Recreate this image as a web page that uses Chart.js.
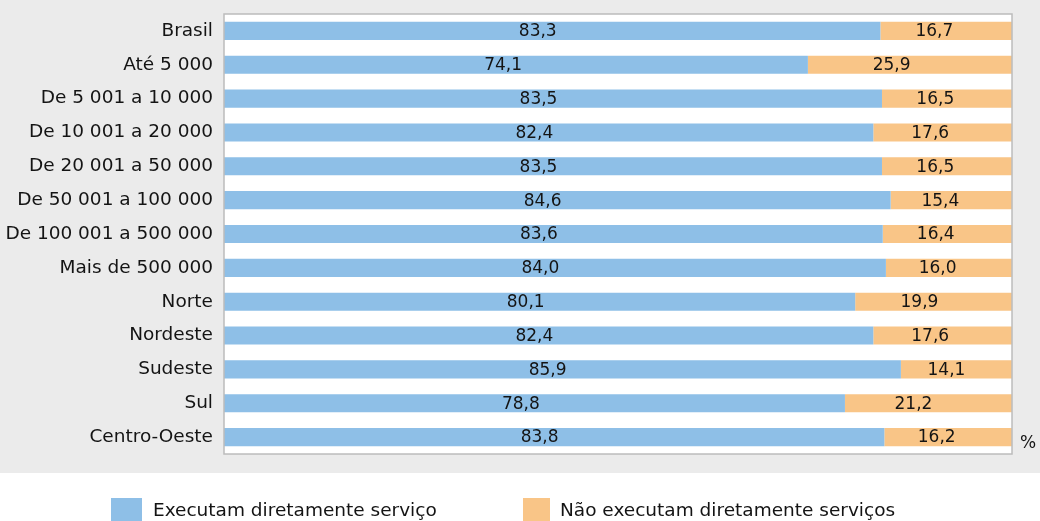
<!DOCTYPE html>
<html>
<head>
<meta charset="utf-8">
<script src="https://cdn.jsdelivr.net/npm/chart.js@4"></script>
<style>
  html, body { margin: 0; padding: 0; background: #ffffff; }
  #wrap { position: relative; width: 1040px; height: 521px; }
</style>
</head>
<body>
<div id="wrap"><canvas id="chart" width="1040" height="521"></canvas></div>
<script>
'use strict';

/* ── Data ─────────────────────────────────────────────────────────────── */
const categories = [
    'Brasil', 'Até 5 000', 'De 5 001 a 10 000', 'De 10 001 a 20 000',
    'De 20 001 a 50 000', 'De 50 001 a 100 000', 'De 100 001 a 500 000',
    'Mais de 500 000', 'Norte', 'Nordeste', 'Sudeste', 'Sul', 'Centro-Oeste'
];
const executam    = [83.3, 74.1, 83.5, 82.4, 83.5, 84.6, 83.6, 84.0, 80.1, 82.4, 85.9, 78.8, 83.8];
const naoExecutam = [16.7, 25.9, 16.5, 17.6, 16.5, 15.4, 16.4, 16.0, 19.9, 17.6, 14.1, 21.2, 16.2];
const seriesNames = ['Executam diretamente serviço', 'Não executam diretamente serviços'];

const BLUE   = '#8ebfe7';
const ORANGE = '#f9c587';
const TEXT   = '#141414';
const FONT   = '"DejaVu Sans", sans-serif';

/* ── Background, frame, value labels, legend ─────────────────────────── */
const decorPlugin = {
    id: 'decor',
    beforeDraw(chart) {
        const { ctx, chartArea: a } = chart;
        ctx.save();
        ctx.fillStyle = '#ebebeb';
        ctx.fillRect(0, 0, chart.width, 473);
        ctx.fillStyle = '#ffffff';
        ctx.fillRect(a.left, a.top, a.right - a.left, a.bottom - a.top);
        ctx.restore();
    },
    afterDraw(chart) {
        const { ctx, chartArea: a } = chart;
        ctx.save();
        // plot frame
        ctx.strokeStyle = '#bcbcbc';
        ctx.lineWidth = 1.5;
        ctx.strokeRect(a.left, a.top, a.right - a.left, a.bottom - a.top);

        // value labels
        ctx.font = '17px ' + FONT;
        ctx.fillStyle = TEXT;
        ctx.textAlign = 'center';
        ctx.textBaseline = 'middle';
        const fracs = [0.478, 0.41];
        chart.data.datasets.forEach((ds, di) => {
            chart.getDatasetMeta(di).data.forEach((bar, i) => {
                const x0 = Math.min(bar.base, bar.x), x1 = Math.max(bar.base, bar.x);
                const x = x0 + (x1 - x0) * fracs[di];
                ctx.fillText(ds.data[i].toFixed(1).replace('.', ','), x, bar.y + 1);
            });
        });

        // unit
        ctx.textAlign = 'left';
        ctx.fillText('%', 1020, 444);

        // legend
        ctx.font = '18.5px ' + FONT;
        const items = [
            { x: 111, w: 31, color: BLUE,   tx: 153 },
            { x: 523, w: 27, color: ORANGE, tx: 560 },
        ];
        items.forEach((it, i) => {
            ctx.fillStyle = it.color;
            ctx.fillRect(it.x, 498, it.w, 24);
            ctx.fillStyle = TEXT;
            ctx.fillText(seriesNames[i], it.tx, 511);
        });
        ctx.restore();
    }
};

/* ── Chart ────────────────────────────────────────────────────────────── */
new Chart(document.getElementById('chart').getContext('2d'), {
    type: 'bar',
    data: {
        labels: categories,
        datasets: [
            { label: seriesNames[0], data: executam,    backgroundColor: BLUE,   borderWidth: 0 },
            { label: seriesNames[1], data: naoExecutam, backgroundColor: ORANGE, borderWidth: 0 },
        ],
    },
    options: {
        indexAxis: 'y',
        responsive: false,
        animation: false,
        barPercentage: 0.535,
        categoryPercentage: 1,
        layout: { padding: { top: 14, right: 28, bottom: 67, left: 0 } },
        plugins: {
            legend: { display: false },
            tooltip: { enabled: false },
        },
        scales: {
            x: {
                stacked: true, min: 0, max: 100,
                display: false,
            },
            y: {
                stacked: true,
                grid: { display: false, drawTicks: false },
                border: { display: false },
                ticks: {
                    color: TEXT,
                    padding: 11,
                    font: { family: FONT, size: 18.5 },
                },
                afterFit(scale) {
                    scale.width = 224;
                    scale.paddingTop = 0;
                    scale.paddingBottom = 0;
                },
            },
        },
    },
    plugins: [decorPlugin],
});
</script>
</body>
</html>
